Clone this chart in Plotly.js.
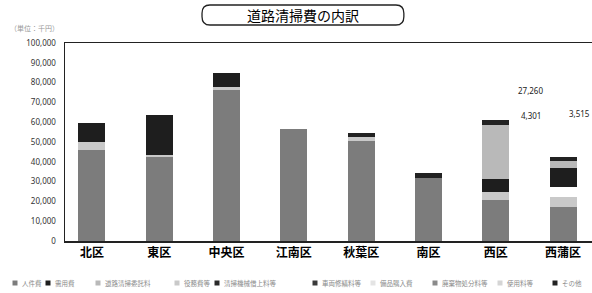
<!DOCTYPE html>
<html><head><meta charset="utf-8">
<script src="https://cdn.plot.ly/plotly-3.0.1.min.js"></script>
<style>html,body{margin:0;padding:0;background:#fff;}#chart{width:592px;height:293px;}</style>
</head><body><div id="chart"></div>
<script>
const categories = ['北区','東区','中央区','江南区','秋葉区','南区','西区','西蒲区'];
// stack order (bottom to top)
const seriesNames = ['人件費','役務費等','備品購入費','需用費','道路清掃委託料','その他','清掃機械借上料等','車両修繕料等','廃棄物処分料等','使用料等'];
const s1 = [46000, 42400, 76300, 56600, 50300, 31800, 20500, 17200];
const s2 = [4000, 1000, 1500, 0, 2000, 0, 4301, 5000];
const s3 = [0, 0, 0, 0, 0, 0, 0, 5000];
const s4 = [9500, 20000, 7200, 0, 0, 0, 6500, 9600];
const s5 = [0, 0, 0, 0, 0, 0, 27260, 3515];
const s6 = [0, 0, 0, 0, 2500, 2500, 2500, 2000];
const s7 = [0, 0, 0, 0, 0, 0, 0, 0];
const s8 = [0, 0, 0, 0, 0, 0, 0, 0];
const s9 = [0, 0, 0, 0, 0, 0, 0, 0];
const s10 = [0, 0, 0, 0, 0, 0, 0, 0];
const yTicks = [0,10000,20000,30000,40000,50000,60000,70000,80000,90000,100000];
// legend order (indices into seriesNames)
const legendOrder = [0, 3, 4, 1, 6, 7, 2, 8, 9, 5];

const values = [s1,s2,s3,s4,s5,s6,s7,s8,s9,s10];
const colors = ['#7c7c7c','#c9c9c9','#ffffff','#1e1e1e','#b9b9b9','#222222','#2a2a2a','#3a3a3a','#8a8a8a','#d5d5d5'];
const traces = values.map((v,i)=>({
  type:'bar', x:categories, y:v, name:seriesNames[i], showlegend:false,
  marker:{color:colors[i], line:{width:0}}, hoverinfo:'skip'
}));

// manual legend row (pixel positions of each entry's swatch)
const W = 592, H = 293, ml = 65, mr = 0, mt = 43, mb = 52;
const pw = W - ml - mr, ph = H - mt - mb;
const px2x = p => (p - ml) / pw;
const py2y = p => (H - mb - p) / ph;
const legendX = [15, 48, 98, 177, 217, 315, 373, 435, 500, 555];
const legendY = 283;
const shapes = [
  {type:'path', xref:'paper', yref:'paper',
   path:'M 0.275 1.192 L 0.628 1.192 Q 0.643 1.192 0.643 1.15 L 0.643 1.133 Q 0.643 1.091 0.628 1.091 L 0.275 1.091 Q 0.26 1.091 0.26 1.133 L 0.26 1.15 Q 0.26 1.192 0.275 1.192 Z',
   line:{color:'#222', width:1.3}}
];
const fmt = n => n.toLocaleString('en-US');
const annotations = [
  {xref:'paper', yref:'paper', x:px2x(8), y:py2y(28), xanchor:'left', yanchor:'middle', showarrow:false,
    text:'（単位：千円）', font:{size:7, color:'#999'}},
  {xref:'paper', yref:'paper', x:px2x(303), y:py2y(15), xanchor:'center', yanchor:'middle', showarrow:false,
    text:'道路清掃費の内訳', font:{size:14, color:'#000', family:'Noto Sans CJK JP'}},
  {xref:'x', yref:'y', x:6.52, y:75800, showarrow:false, text:fmt(s5[6]), font:{size:8, color:'#222', family:'Noto Sans'}},
  {xref:'x', yref:'y', x:6.52, y:63600, showarrow:false, text:fmt(s2[6]), font:{size:8, color:'#222', family:'Noto Sans'}},
  {xref:'paper', yref:'y', x:1, xanchor:'right', y:64600, showarrow:false, text:fmt(s5[7]), font:{size:8, color:'#222', family:'Noto Sans'}}
];
legendOrder.forEach((si, k) => {
  const x0 = legendX[k];
  const c = colors[si] === '#ffffff' ? '#e4e4e4' : colors[si];
  shapes.push({type:'rect', xref:'paper', yref:'paper',
    x0:px2x(x0-2.5), x1:px2x(x0+2.5), y0:py2y(legendY+2.5), y1:py2y(legendY-2.5),
    fillcolor:c, line:{width:0}});
  annotations.push({xref:'paper', yref:'paper', x:px2x(x0+5), y:py2y(legendY), xanchor:'left', yanchor:'middle',
    showarrow:false, text:seriesNames[si], font:{size:6.5, color:'#8a8a8a', family:'Noto Sans CJK JP'}});
});

const layout = {
  width:W, height:H,
  margin:{l:ml, r:mr, t:mt, b:mb},
  paper_bgcolor:'#fff', plot_bgcolor:'#fff',
  barmode:'stack', bargap:0.6,
  showlegend:false,
  font:{family:'Noto Sans CJK JP', color:'#111'},
  xaxis:{type:'category', range:[-0.4, 7.43], showline:true, linecolor:'#222', linewidth:1.5,
    mirror:true, ticks:'', tickfont:{size:12, color:'#000', family:'Noto Sans CJK JP', weight:'bold'},
    showgrid:false, fixedrange:true},
  yaxis:{range:[0,100000], tickvals:yTicks, tickformat:',d', showline:true, linecolor:'#222', linewidth:1.5,
    showgrid:false, zeroline:false, ticks:'', tickfont:{size:8, color:'#333', family:'Noto Sans'}, ticklabelstandoff:6},
  annotations:annotations,
  shapes:shapes
};
Plotly.newPlot('chart', traces, layout, {staticPlot:true, displayModeBar:false});
</script></body></html>
